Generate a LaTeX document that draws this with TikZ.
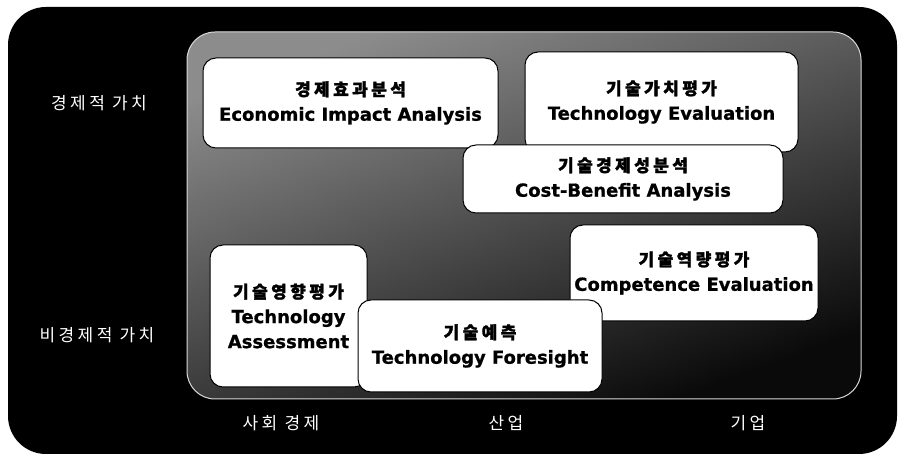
\documentclass[tikz,border=0pt]{standalone}
\usepackage{fontspec}
\setmainfont{DejaVu Sans}[BoldFeatures={FakeBold=0.8}]
\newfontfamily\krfont[LetterSpace=20]{Noto Sans CJK KR}
\newfontfamily\krbold[LetterSpace=20, FakeBold=1.6]{Noto Sans CJK KR}
\usepackage{tikz}

\newcommand{\kr}[1]{{\krbold\fontsize{17}{25}\selectfont #1}}

\tikzset{
  card/.style={draw=black, line width=1pt, fill=white, rounded corners=13pt,
    align=center, inner sep=0pt, font=\bfseries\fontsize{18}{25}\selectfont},
  axislabel/.style={text=white, font=\krfont\fontsize{17}{20}\selectfont}
}

\begin{document}
\begin{tikzpicture}[x=1pt,y=1pt]

% Page
\fill[white] (0,0) rectangle (901,457);
\useasboundingbox (0,0) rectangle (901,457);

% Black frame and shaded field
\fill[black, rounded corners=38] (8,3) rectangle (897,450);
\shade[rounded corners=28, top color=black!45, bottom color=black!96, shading angle=20]
  (187,58) rectangle (861,425);
\draw[black!15, line width=1pt, rounded corners=28] (187,58) rectangle (861,425);

% Value axis
\node[axislabel] (econval) at (99,354) {경제적 가치};
\node[axislabel] (nonecon) at (97,122) {비경제적 가치};

% Scope axis
\node[axislabel] (society) at (281,34) {사회 경제};
\node[axislabel] (industry) at (506,34) {산업};
\node[axislabel] (firm) at (748,34) {기업};

% Methods
\node[card, minimum width=295, minimum height=90] (impact) at (350.5,354)
  {\kr{경제효과분석}\\Economic Impact Analysis};
\node[card, minimum width=273, minimum height=100] (techeval) at (661.5,355)
  {\kr{기술가치평가}\\Technology Evaluation};
\node[card, minimum width=320, minimum height=68] (costben) at (623,278)
  {\kr{기술경제성분석}\\Cost-Benefit Analysis};
\node[card, minimum width=248, minimum height=96] (compet) at (694,184)
  {\kr{기술역량평가}\\Competence Evaluation};
\node[card, minimum width=157, minimum height=142] (assess) at (288.5,141)
  {\kr{기술영향평가}\\Technology\\Assessment};
\node[card, minimum width=244, minimum height=92] (foresight) at (480,111)
  {\kr{기술예측}\\Technology Foresight};

\end{tikzpicture}
\end{document}
